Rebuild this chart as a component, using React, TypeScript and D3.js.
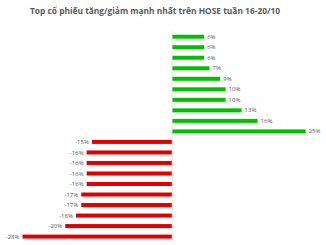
import React from "react";
import * as d3 from "d3";

const values = [6, 6, 6, 7, 9, 10, 10, 13, 16, 25, -15, -16, -16, -16, -16, -17, -17, -18, -20, -28];
const labels = values.map((v) => `${v}%`);
const title = "Top cổ phiếu tăng/giảm mạnh nhất trên HOSE tuần 16-20/10";

const W = 326;
const H = 245;

export default function App() {
  const x = d3.scaleLinear().domain([-28, 25]).range([22.5, 305.7]);
  const y = d3
    .scaleBand<number>()
    .domain(d3.range(values.length))
    .range([31.45, 241.85])
    .paddingInner(0.62)
    .paddingOuter(0.31);
  const bh = y.bandwidth();
  return (
    <svg width={W} height={H} style={{ position: "absolute", left: 0, top: 0, background: "#fff" }}>
      <text
        x={155}
        y={14}
        textAnchor="middle"
        fontFamily="'Open Sans', sans-serif"
        fontWeight="bold"
        fontSize={8}
        fill="#595959"
        textLength={250}
        lengthAdjust="spacingAndGlyphs"
      >
        {title}
      </text>
      {values.map((v, i) => {
        const x0 = x(0);
        const x1 = x(v);
        const yy = y(i)!;
        return (
          <g key={i}>
            <rect
              x={Math.min(x0, x1)}
              y={yy}
              width={Math.abs(x1 - x0)}
              height={bh}
              fill={v >= 0 ? "#00c000" : "#e00000"}
            />
            <text
              x={v >= 0 ? x1 + 3 : x1 - 3}
              y={yy + bh / 2}
              dy="0.35em"
              textAnchor={v >= 0 ? "start" : "end"}
              fontFamily="'Open Sans', sans-serif"
              fontSize={6}
              fill="#595959"
            >
              {labels[i]}
            </text>
          </g>
        );
      })}
      <line x1={x(0)} x2={x(0)} y1={31} y2={242} stroke="#d9d9d9" strokeWidth={0.75} />
    </svg>
  );
}
